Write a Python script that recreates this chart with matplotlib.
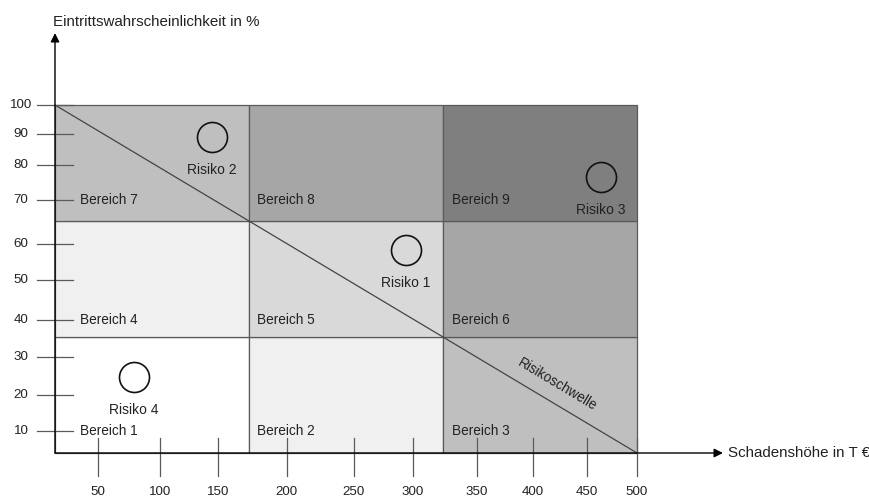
import numpy as np
import matplotlib
matplotlib.use("Agg")
import matplotlib.pyplot as plt

plt.rcParams['font.family'] = ['Liberation Sans', 'DejaVu Sans']

# Risk matrix: 3x3 cells (columns = damage, rows = probability)
# area numbers, bottom row first
bereiche = [[1, 2, 3],
            [4, 5, 6],
            [7, 8, 9]]
cell_colors = [['#ffffff', '#f0f0f0', '#bfbfbf'],
               ['#f0f0f0', '#d9d9d9', '#a6a6a6'],
               ['#bfbfbf', '#a6a6a6', '#7f7f7f']]

# schematic axis ticks (positions in cell units, not linear in value)
x_tick_labels = [50, 100, 150, 200, 250, 300, 350, 400, 450, 500]
x_tick_pos = [0.22, 0.541, 0.839, 1.194, 1.541, 1.845, 2.174, 2.462, 2.741, 3.0]
y_tick_labels = [100, 90, 80, 70, 60, 50, 40, 30, 20, 10]
y_tick_pos = [3.0, 2.75, 2.483, 2.181, 1.80, 1.491, 1.147, 0.828, 0.5, 0.19]

# risks (positions in cell units)
risk_names = ['Risiko 1', 'Risiko 2', 'Risiko 3', 'Risiko 4']
risk_x = [1.808, 0.809, 2.814, 0.407]
risk_y = [1.75, 2.724, 2.379, 0.655]

fig = plt.figure(figsize=(8.7, 4.97), dpi=100)
ax = fig.add_axes([55 / 870, 44 / 497, 582 / 870, 348 / 497])
ax.set_xlim(0, 3)
ax.set_ylim(0, 3)
ax.axis('off')

txt = '#222222'
grid_c = '#5a5a5a'

# cells
for r in range(3):
    for c in range(3):
        ax.bar(c, 1, width=1, bottom=r, align='edge', color=cell_colors[r][c],
               edgecolor=grid_c, linewidth=0.9, clip_on=False, zorder=1)

# area labels, aligned with the 10 / 40 / 70 ticks
label_x = [0.129, 1.041, 2.046]
label_y = [y_tick_pos[y_tick_labels.index(v)] for v in (10, 40, 70)]
for r in range(3):
    for c in range(3):
        ax.text(label_x[c], label_y[r], f'Bereich {bereiche[r][c]}', ha='left',
                va='center', fontsize=9.8, color=txt, zorder=5)

# risk threshold diagonal
ax.plot([0, 3], [3, 0], color='#444444', lw=0.9, zorder=3, clip_on=False)
fig.canvas.draw()
p0 = ax.transData.transform((0, 3))
p1 = ax.transData.transform((3, 0))
ang = np.degrees(np.arctan2(p1[1] - p0[1], p1[0] - p0[0]))
ax.text(2.588, 0.586, 'Risikoschwelle', rotation=ang, rotation_mode='anchor',
        ha='center', va='center', fontsize=9.8, color=txt, zorder=5)

# axes with arrows
ax.annotate('', xy=(0, 3.62), xytext=(0, 0),
            arrowprops=dict(arrowstyle='-|>', color='black', lw=1.0,
                            mutation_scale=13, shrinkA=0, shrinkB=0),
            annotation_clip=False, zorder=6)
ax.annotate('', xy=(3.443, 0), xytext=(0, 0),
            arrowprops=dict(arrowstyle='-|>', color='black', lw=1.0,
                            mutation_scale=13, shrinkA=0, shrinkB=0),
            annotation_clip=False, zorder=6)
ax.text(-0.01, 3.716, 'Eintrittswahrscheinlichkeit in %', ha='left', va='center',
        fontsize=10.9, color=txt)
ax.text(3.469, 0, 'Schadenshöhe in T €', ha='left', va='center',
        fontsize=10.9, color=txt)

# ticks
for p, lab in zip(y_tick_pos, y_tick_labels):
    ax.plot([-0.093, 0.093], [p, p], color=grid_c, lw=0.9, clip_on=False, zorder=4)
    ax.text(-0.175, p, str(lab), ha='center', va='center', fontsize=9.6, color=txt)
for p, lab in zip(x_tick_pos, x_tick_labels):
    ax.plot([p, p], [0.13, -0.2], color=grid_c, lw=0.9, clip_on=False, zorder=4)
    ax.text(p, -0.336, str(lab), ha='center', va='center', fontsize=9.6, color=txt)

# risks
ax.plot(risk_x, risk_y, 'o', ms=21.6, mfc='none', mec='#111111', mew=1.2,
        clip_on=False, zorder=5)
for name, x, y in zip(risk_names, risk_x, risk_y):
    ax.annotate(name, (x, y), xytext=(0, -23.5), textcoords='offset points',
                ha='center', va='center', fontsize=10, color=txt, zorder=5)

fig.savefig('out.png', dpi=100)
